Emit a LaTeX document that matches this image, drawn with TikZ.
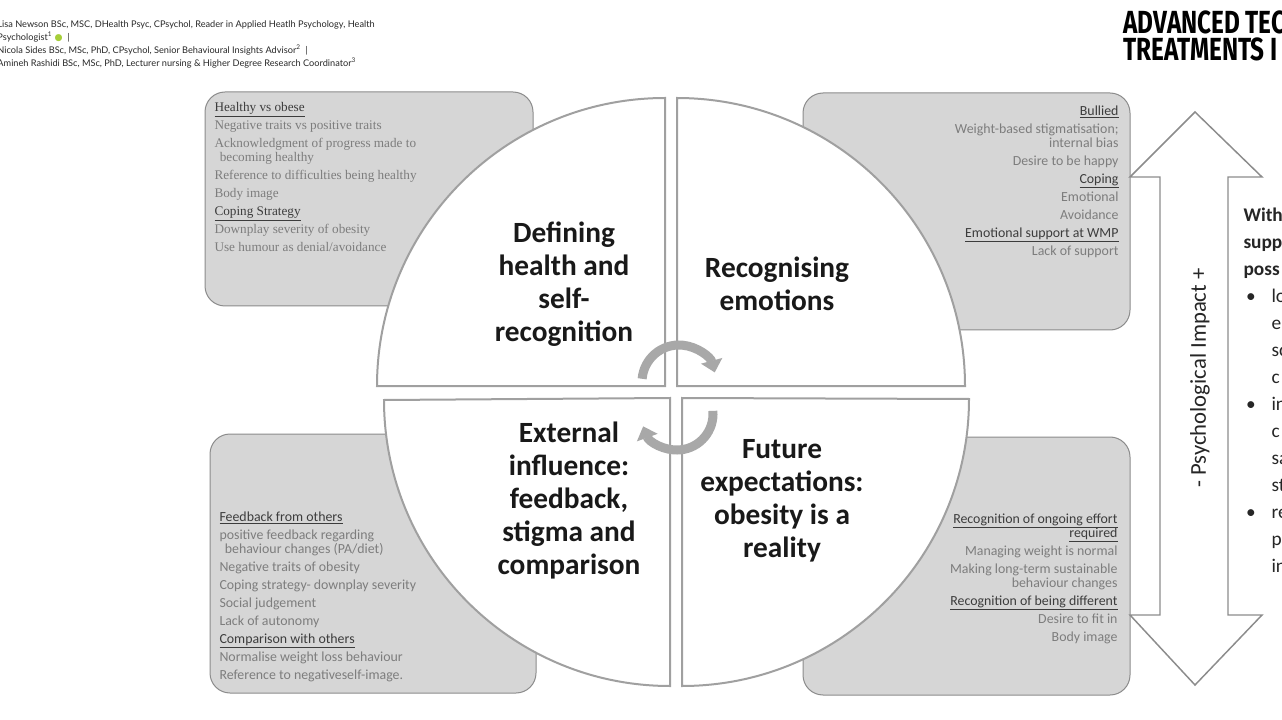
\documentclass[tikz,border=0pt]{standalone}
\usepackage{fontspec}
\setmainfont{Carlito}
\newfontfamily\timesf{Liberation Serif}
\newfontfamily\latof{Lato}
\newfontfamily\firaf{Fira Sans}
\newfontfamily\djvf{DejaVu Sans}
\usetikzlibrary{arrows.meta}

\definecolor{boxgray}{RGB}{214,214,214}
\definecolor{boxedge}{RGB}{140,140,140}
\definecolor{quadedge}{RGB}{160,160,160}
\definecolor{bodygray}{RGB}{125,125,125}
\definecolor{headgray}{RGB}{60,60,60}
\definecolor{cyclegray}{RGB}{168,168,168}
\definecolor{hdrgray}{RGB}{40,40,40}
\definecolor{orcid}{RGB}{166,206,57}

\newcommand{\subhead}[1]{\textcolor{headgray}{\underline{#1}}}
\newcommand{\bul}{\makebox[21pt][l]{\hspace{2pt}•}}
\newcommand{\ind}{\hspace*{21pt}}

\tikzset{every picture/.style={line width=0.75pt}}
\tikzset{
  sidebox/.style={draw=boxedge, fill=boxgray, rounded corners=15pt},
  quarter/.style={draw=quadedge, fill=white, line width=1.5pt},
  serifbody/.style={inner sep=0pt, text=bodygray, font=\timesf\fontsize{9.9pt}{13.5pt}\selectfont},
  sansbody/.style={inner sep=0pt, text=bodygray, font=\fontsize{10.4pt}{13.5pt}\selectfont},
  themetxt/.style={inner sep=0pt, align=center, text=black!90, font=\fontsize{22pt}{24.75pt}\selectfont\bfseries},
  cyclearrow/.style={draw=cyclegray, line width=6.75pt, -{Triangle[length=9pt,width=16pt]}},
  dblarrow/.style={draw=boxedge, fill=white, line width=1.1pt, line join=miter},
}

\begin{document}
\begin{tikzpicture}[x=0.75pt,y=0.75pt,yscale=-1,xscale=1]
\useasboundingbox (0,0) rectangle (1282,720);
\fill[white] (0,0) rectangle (1282,720);

%Shape: Rounded Rect
\draw[sidebox] (205,92) rectangle (533,306);
%Shape: Rounded Rect
\draw[sidebox] (803,93) rectangle (1130,330);
%Shape: Rounded Rect
\draw[sidebox] (210,434) rectangle (536,693);
%Shape: Rounded Rect
\draw[sidebox] (803,437) rectangle (1130,695);

%Shape: Double Arrow
\draw[dblarrow] (1195,112) -- (1262,177) -- (1228,177) -- (1228,615) -- (1262,615) -- (1195,685) -- (1130,615) -- (1160,615) -- (1160,177) -- (1130,177) -- cycle;

%Shape: Quarter Circles
\draw[quarter] (665,386) -- (665,98) arc[start angle=-90, end angle=-180, radius=288] -- cycle;
\draw[quarter] (677,386) -- (677,98) arc[start angle=-90, end angle=0, radius=288] -- cycle;
\draw[quarter] (670,398) -- (670,686) arc[start angle=90, end angle=180, radius=286] -- cycle;
\draw[quarter] (682,398) -- (682,686) arc[start angle=90, end angle=0, radius=287] -- cycle;

%Curved Arrows
\draw[cyclearrow] (679,382) ++(185:37) arc[start angle=185, end angle=345, radius=37];
\draw[cyclearrow] (677,414) ++(-5:36) arc[start angle=-5, end angle=160, radius=36];

% Text Node
\node[themetxt] (defining) at (564,284) {Defining\\health and\\self-\\recognition};
% Text Node
\node[themetxt] (emotions) at (777,284) {Recognising\\emotions};
% Text Node
\node[themetxt] (external) at (569,501) {External\\influence:\\feedback,\\stigma and\\comparison};
% Text Node
\node[themetxt] (future) at (782,501) {Future\\expectations:\\obesity is a\\reality};

% Text Node
\node[serifbody, anchor=north west, align=left] (healthtxt) at (214,102) {\subhead{Healthy vs obese}\\
Negative traits vs positive traits\\
Acknowledgment of progress made to\\[-3pt]
\hspace*{4pt}becoming healthy\\
Reference to difficulties being healthy\\
Body image\\
\subhead{Coping Strategy}\\
Downplay severity of obesity\\
Use humour as denial/avoidance};
% Text Node
\node[sansbody, anchor=north east, align=right] (emotiontxt) at (1119,105) {\subhead{Bullied}\\
Weight-based stigmatisation;\\[-3pt]
internal bias\\
Desire to be happy\\
\subhead{Coping}\\
Emotional\\
Avoidance\\
\subhead{Emotional support at WMP}\\
Lack of support};
% Text Node
\node[sansbody, anchor=north west, align=left] (externaltxt) at (219,511) {\subhead{Feedback from others}\\
positive feedback regarding\\[-3pt]
\hspace*{4pt}behaviour changes (PA/diet)\\
Negative traits of obesity\\
Coping strategy- downplay severity\\
Social judgement\\
Lack of autonomy\\
\subhead{Comparison with others}\\
Normalise weight loss behaviour\\
Reference to negativeself-image.};
% Text Node
\node[sansbody, anchor=north east, align=right] (futuretxt) at (1118,513) {\subhead{Recognition of ongoing effort}\\[-3pt]
\subhead{required}\\
Managing weight is normal\\
Making long-term sustainable\\[-3pt]
behaviour changes\\
\subhead{Recognition of being different}\\
Desire to fit in\\
Body image};

% Text Node
\node[rotate=90, inner sep=0pt, text=black!85, font=\fontsize{17pt}{18pt}\selectfont] (impact) at (1200,378) {- Psychological Impact +};

% Text Node
\node[anchor=north west, inner sep=0pt, align=left, text=black!85, font=\fontsize{14.5pt}{20.25pt}\selectfont] (support) at (1243,207) {\textbf{With}\\\textbf{supp}\\\textbf{poss}\\
\bul lo\\\ind e\\\ind sc\\\ind c\\
\bul in\\\ind c\\\ind sa\\\ind st\\
\bul re\\\ind p\\\ind in};

% Text Node
\node[anchor=north west, inner sep=0pt, align=left, text=hdrgray, font=\latof\fontsize{6.9pt}{9.75pt}\selectfont] (authors) at (-3,20) {Lisa Newson BSc, MSC, DHealth Psyc, CPsychol, Reader in Applied Heatlh Psychology, Health\\
Psychologist\textsuperscript{1} {\djvf\textcolor{orcid}{●}} \ |\\
Nicola Sides BSc, MSc, PhD, CPsychol, Senior Behavioural Insights Advisor\textsuperscript{2} \ |\\
Amineh Rashidi BSc, MSc, PhD, Lecturer nursing \& Higher Degree Research Coordinator\textsuperscript{3}};

% Text Node
\node[anchor=north west, inner sep=0pt, align=left, text=black, font=\firaf\bfseries\fontsize{24pt}{20.25pt}\selectfont] (title) at (1123,10) {\scalebox{0.76}[1]{ADVANCED TEC}\\\scalebox{0.76}[1]{TREATMENTS I}};

\end{tikzpicture}
\end{document}
